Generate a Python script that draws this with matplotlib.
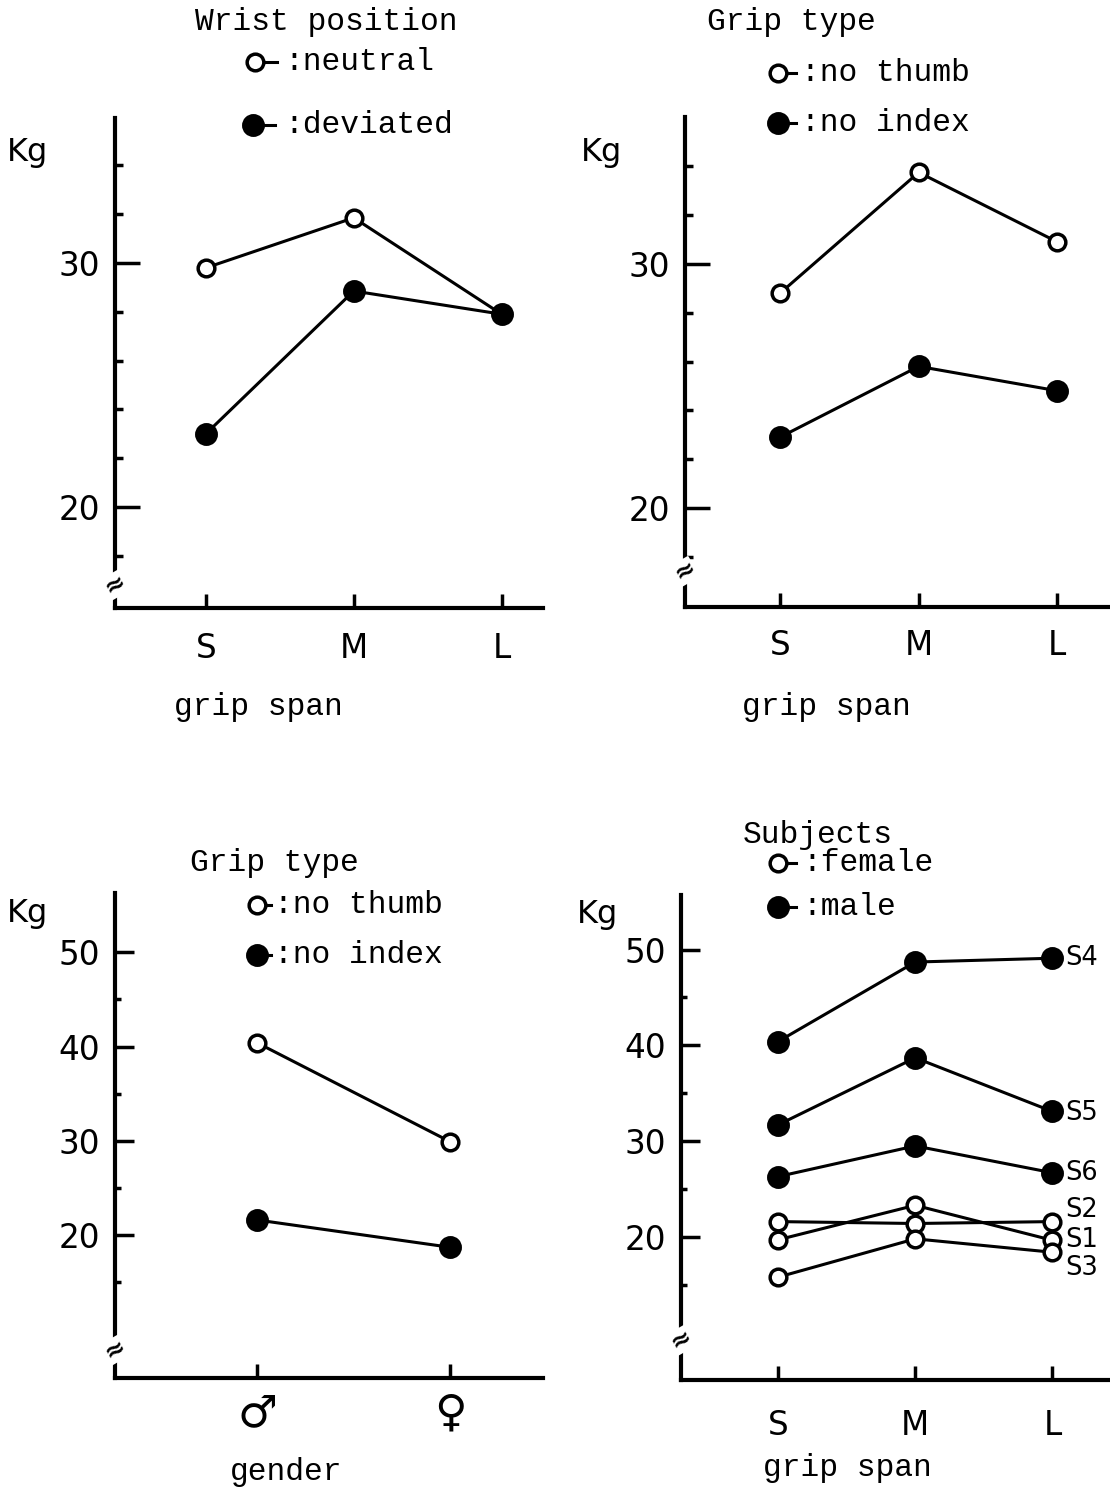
import matplotlib
matplotlib.use('Agg')
import matplotlib.pyplot as plt
from matplotlib.lines import Line2D

# ---------------- data ----------------
spans = ['S', 'M', 'L']
wrist_neutral = [29.8, 31.85, 27.9]
wrist_deviated = [23.0, 28.85, 27.9]

grip_no_thumb = [28.8, 33.75, 30.9]
grip_no_index = [22.9, 25.8, 24.8]

genders = ['\u2642', '\u2640']
gender_no_thumb = [40.4, 29.9]
gender_no_index = [21.6, 18.7]

subject_names = ['S4', 'S5', 'S6', 'S2', 'S1', 'S3']
subject_is_female = [False, False, False, True, True, True]
s4 = [40.4, 48.7, 49.1]
s5 = [31.7, 38.7, 33.1]
s6 = [26.3, 29.5, 26.7]
s2 = [21.6, 21.4, 21.6]
s1 = [19.7, 23.3, 19.65]
s3 = [15.8, 19.8, 18.4]
subject_values = [s4, s5, s6, s2, s1, s3]

# ---------------- style ----------------
W, H = 1110, 1491
fig = plt.figure(figsize=(W / 100, H / 100), dpi=100)
fig.patch.set_facecolor('white')
MONO = 'Liberation Mono'
SANS = 'DejaVu Sans'
LW = 2.2
MS_OPEN = 12
MS_FILL = 14
TICKFS = 23.5


def px_axes(left, top, right, bottom):
    return fig.add_axes([left / W, 1 - bottom / H, (right - left) / W, (bottom - top) / H])


def fx(x):
    return x / W


def fy(y):
    return 1 - y / H


def style(ax, major, minor, major_len, minor_len, xpad):
    for s in ['top', 'right']:
        ax.spines[s].set_visible(False)
    for s in ['left', 'bottom']:
        ax.spines[s].set_linewidth(3)
    ax.set_yticks(major)
    ax.set_yticks(minor, minor=True)
    ax.tick_params(axis='y', which='major', direction='in', length=major_len, width=2.5,
                   labelsize=TICKFS, pad=11)
    ax.tick_params(axis='y', which='minor', direction='in', length=minor_len, width=2.5)
    ax.tick_params(axis='x', which='major', direction='in', length=10, width=2.5,
                   labelsize=TICKFS, pad=xpad)
    for lab in ax.get_xticklabels() + ax.get_yticklabels():
        lab.set_family(SANS)


def series(ax, x, vals, filled):
    ax.plot(x, vals, '-o', color='black', lw=LW,
            ms=MS_FILL if filled else MS_OPEN,
            mfc='black' if filled else 'white', mec='black', mew=2.5,
            zorder=4 if filled else 3, clip_on=False)


def key(mx, my, filled, text, tx, stub=22):
    ln = Line2D([fx(mx), fx(mx + stub)], [fy(my), fy(my)], transform=fig.transFigure,
                color='black', lw=LW, marker='o', markevery=[0],
                ms=MS_FILL if filled else MS_OPEN,
                mfc='black' if filled else 'white', mec='black', mew=2.5)
    fig.add_artist(ln)
    fig.text(fx(tx), fy(my), text, family=MONO, fontsize=22.5, ha='left', va='center')


def brk(ax, val):
    ax.text(0, val, '\u2248', transform=ax.get_yaxis_transform(), ha='center', va='center',
            fontsize=18, fontweight='bold', rotation=30, family=SANS,
            bbox=dict(facecolor='white', edgecolor='none', pad=0))


def kg(x, y):
    fig.text(fx(x), fy(y), 'Kg', family=SANS, fontsize=23, ha='center', va='center')


# ---------------- panel 1 ----------------
ax1 = px_axes(115, 118, 543, 608)
x3 = list(range(len(spans)))
series(ax1, x3, wrist_neutral, False)
series(ax1, x3, wrist_deviated, True)
ax1.set_xlim(-0.615, 2.28)
ax1.set_ylim(15.86, 35.94)
ax1.set_xticks(x3)
ax1.set_xticklabels(spans)
style(ax1, [20, 30], [18, 22, 24, 26, 28, 32, 34], 18, 6, 17)
brk(ax1, 16.8)
fig.text(fx(326), fy(22), 'Wrist position', family=MONO, fontsize=22.5, ha='center', va='center')
key(255, 62, False, ':neutral', 284)
key(253, 125, True, ':deviated', 284)
fig.text(fx(258), fy(707), 'grip span', family=MONO, fontsize=22.5, ha='center', va='center')
kg(28, 153)

# ---------------- panel 2 ----------------
ax2 = px_axes(685, 117, 1110, 607)
series(ax2, x3, grip_no_thumb, False)
series(ax2, x3, grip_no_index, True)
ax2.set_xlim(-0.686, 2.38)
ax2.set_ylim(15.94, 36.02)
ax2.set_xticks(x3)
ax2.set_xticklabels(spans)
style(ax2, [20, 30], [18, 22, 24, 26, 28, 32, 34], 18, 6, 16)
brk(ax2, 17.4)
fig.text(fx(707), fy(22), 'Grip type', family=MONO, fontsize=22.5, ha='left', va='center')
key(778, 73, False, ':no thumb', 801, stub=18)
key(778, 123, True, ':no index', 801, stub=18)
fig.text(fx(826), fy(707), 'grip span', family=MONO, fontsize=22.5, ha='center', va='center')
kg(602, 153)

# ---------------- panel 3 ----------------
ax3 = px_axes(115, 893, 543, 1378)
x2 = list(range(len(genders)))
series(ax3, x2, gender_no_thumb, False)
series(ax3, x2, gender_no_index, True)
ax3.set_xlim(-0.736, 1.48)
ax3.set_ylim(4.83, 56.3)
ax3.set_xticks(x2)
ax3.set_xticklabels(genders)
style(ax3, [20, 30, 40, 50], [15, 25, 35, 45], 14, 4, 10)
for lab in ax3.get_xticklabels():
    lab.set_fontsize(32)
brk(ax3, 7.8)
fig.text(fx(190), fy(863), 'Grip type', family=MONO, fontsize=22.5, ha='left', va='center')
key(257, 905, False, ':no thumb', 274, stub=14)
key(257, 955, True, ':no index', 274, stub=14)
fig.text(fx(286), fy(1472), 'gender', family=MONO, fontsize=22.5, ha='center', va='center')
kg(28, 913)

# ---------------- panel 4 ----------------
ax4 = px_axes(681, 895, 1110, 1380)
label_offsets = [(9, 0), (9, -1), (9, 0), (9, 8), (9, 0), (9, -11.5)]
for name, vals, fem, off in zip(subject_names, subject_values, subject_is_female, label_offsets):
    series(ax4, x3, vals, not fem)
    ax4.annotate(name, xy=(x3[-1], vals[-1]), xytext=off, textcoords='offset points',
                 ha='left', va='center', family=SANS, fontsize=18.5, annotation_clip=False)
ax4.set_xlim(-0.708, 2.42)
ax4.set_ylim(5.06, 55.7)
ax4.set_xticks(x3)
ax4.set_xticklabels(spans)
style(ax4, [20, 30, 40, 50], [15, 25, 35, 45], 14, 4, 21)
brk(ax4, 9.2)
fig.text(fx(743), fy(835), 'Subjects', family=MONO, fontsize=22.5, ha='left', va='center')
key(778, 863, False, ':female', 802, stub=18)
key(778, 907, True, ':male', 802, stub=18)
fig.text(fx(847), fy(1468), 'grip span', family=MONO, fontsize=22.5, ha='center', va='center')
kg(598, 915)

fig.savefig('out.png', dpi=100, facecolor='white')
